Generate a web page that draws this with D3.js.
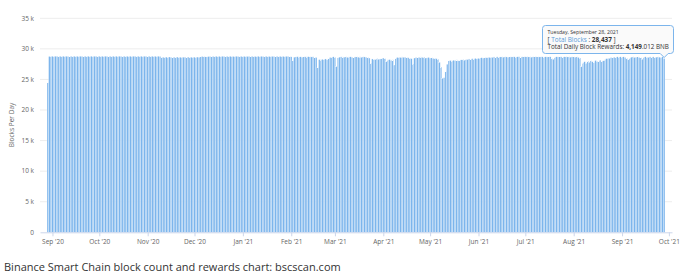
<!DOCTYPE html>
<html>
<head>
<meta charset="utf-8">
<script src="https://cdn.jsdelivr.net/npm/d3@7"></script>
<style>
  body { margin: 0; background: #fff; font-family: "Open Sans", sans-serif; }
  #caption { position: absolute; left: 4px; top: 259px; font-size: 11px; color: #333; white-space: nowrap; }
</style>
</head>
<body>
<div id="chart"></div>
<div id="caption">Binance Smart Chain block count and rewards chart: bscscan.com</div>
<script>
// daily block counts, one value per day starting 29 Aug 2020
const startDate = new Date(2020, 7, 29);
const blocks = [
  // Aug '20
  24450, 28770, 28795,
  // Sep '20
  28796, 28790, 28799, 28800, 28793, 28797, 28786, 28799, 28800, 28794,
  28788, 28796, 28800, 28791, 28797, 28799, 28786, 28800, 28795, 28790,
  28798, 28800, 28793, 28797, 28789, 28800, 28796, 28792, 28799, 28794,
  // Oct '20
  28797, 28800, 28791, 28795, 28799, 28788, 28796, 28800, 28793, 28798,
  28790, 28799, 28795, 28800, 28787, 28794, 28799, 28796, 28791, 28800,
  28798, 28792, 28797, 28799, 28789, 28795, 28800, 28793, 28797, 28790, 28798,
  // Nov '20
  28796, 28800, 28791, 28797, 28799, 28788, 28795, 28800, 28760,
  28650, 28640, 28660, 28655, 28630, 28670, 28645, 28660, 28650, 28635, 28665,
  28650, 28640, 28660, 28645, 28655, 28630, 28660, 28650, 28640, 28655,
  // Dec '20
  28650, 28645, 28660, 28640, 28720, 28760, 28740, 28690, 28700, 28750,
  28770, 28760, 28780, 28770, 28790, 28760, 28780, 28770, 28790, 28780,
  28760, 28785, 28770, 28790, 28780, 28760, 28785, 28790, 28770, 28780, 28775,
  // Jan '21
  28780, 28770, 28790, 28760, 28785, 28770, 28790, 28775, 28760, 28780,
  28790, 28770, 28785, 28760, 28780, 28790, 28770, 28760, 28785, 28775,
  28780, 28770, 28790, 28760, 28780, 28785, 28770, 28760, 28780, 28790, 28770,
  // Feb '21
  28700, 28050, 28650, 28700, 28720, 28680, 28700, 28650, 28720, 28700,
  28690, 28720, 28700, 28680, 28710, 28650, 28600, 26900, 28250, 28200,
  28300, 28250, 28350, 28200, 28400, 28600, 28650, 28700,
  // Mar '21
  28600, 27100, 28550, 28650, 28700, 28680, 28650, 28700, 28620, 28680,
  28700, 28650, 28600, 28680, 28700, 28650, 28690, 28620, 28700, 28680,
  28650, 28600, 28500, 27650, 28350, 28300, 28250, 28400, 28300, 28350, 28450,
  // Apr '21
  28500, 28400, 27900, 28200, 28250, 28150, 28200, 27360, 28450, 28600,
  28650, 28600, 28680, 28620, 28650, 28600, 28550, 28500, 28400, 27530,
  28500, 28600, 28650, 28620, 28680, 28600, 28650, 28500, 28550, 28600,
  // May '21
  28500, 28550, 28450, 28500, 28400, 28300, 27800, 27000, 25190, 25300,
  26270, 27500, 28050, 28100, 28000, 28150, 28100, 28200, 28050, 28150,
  28200, 28250, 28150, 28300, 28250, 28350, 28300, 28400, 28350, 28450, 28400,
  // Jun '21
  28450, 28500, 28550, 28500, 28600, 28550, 28650, 28600, 28650, 28600,
  28680, 28650, 28700, 28650, 28680, 28700, 28650, 28700, 28680, 28650,
  28700, 28680, 28720, 28700, 28650, 28700, 28720, 28680, 28700, 28720,
  // Jul '21
  28700, 28720, 28680, 28700, 28650, 28700, 28720, 28690, 28700, 28680,
  28720, 28700, 28650, 28700, 28680, 28720, 28700, 28400, 28300, 28600,
  28700, 28680, 28720, 28700, 28650, 28700, 28720, 28680, 28700, 28650, 28700,
  // Aug '21
  28700, 28650, 28700, 28600, 28500, 27080, 27700, 27900, 27650, 28000,
  27800, 28050, 27900, 27750, 28100, 27950, 28000, 28150, 27900, 28050,
  28200, 28400, 28500, 28450, 28600, 28550, 28650, 28600, 28700, 28650, 28700,
  // Sep '21
  28650, 28700, 28600, 28450, 28200, 28500, 28650, 28700, 28600, 28650,
  28700, 28600, 28550, 28300, 28650, 28700, 28650, 28600, 28700, 28650,
  28700, 28600, 28650, 28700, 28650, 28600, 28700, 28437
];
const yTicks = [0, 5000, 10000, 15000, 20000, 25000, 30000, 35000];
const tipLines = ["Tuesday, September 28, 2021", "Total Blocks", "28,437", "4,149", ".012 BNB"];

const width = 686, height = 277;
const svg = d3.select('#chart').append('svg').attr('width', width).attr('height', height);

const data = blocks.map((v, i) => ({ date: d3.timeDay.offset(startDate, i), value: v }));

const x = d3.scaleTime()
  .domain([new Date(2020, 7, 24), new Date(2021, 9, 3)])
  .range([40, 672]);
const y = d3.scaleLinear().domain([0, 35000]).range([232.3, 18.3]);
const dayW = x(new Date(2020, 8, 2)) - x(new Date(2020, 8, 1));

// grid
svg.append('g')
  .selectAll('line').data(yTicks.slice(1))
  .enter().append('line')
  .attr('x1', 40).attr('x2', 672)
  .attr('y1', d => y(d)).attr('y2', d => y(d))
  .attr('stroke', '#ededed').attr('stroke-width', 1);

// y labels
svg.append('g')
  .selectAll('text').data(yTicks)
  .enter().append('text')
  .attr('x', 34).attr('y', d => y(d) + 2.3)
  .attr('text-anchor', 'end')
  .attr('font-size', 6.5).attr('fill', '#666')
  .text(d => d === 0 ? '0' : (d / 1000) + ' k');

svg.append('text')
  .attr('transform', 'translate(14,125) rotate(-90)')
  .attr('text-anchor', 'middle')
  .attr('font-size', 6.5).attr('fill', '#666')
  .text('Blocks Per Day');

// bars
svg.append('g')
  .selectAll('rect').data(data)
  .enter().append('rect')
  .attr('x', d => x(d.date) - dayW / 2)
  .attr('width', dayW)
  .attr('y', d => y(d.value))
  .attr('height', d => y(0) - y(d.value))
  .attr('fill', '#7cb5ec')
  .attr('stroke', '#fff')
  .attr('stroke-width', 0.3);

// x axis
const xAxis = svg.append('g')
  .attr('transform', `translate(0,${y(0)})`)
  .call(d3.axisBottom(x)
    .ticks(d3.timeMonth.every(1))
    .tickFormat(d3.timeFormat("%b '%y"))
    .tickSize(4).tickPadding(3).tickSizeOuter(0));
xAxis.select('.domain').attr('stroke', '#ccd6eb');
xAxis.selectAll('.tick line').attr('stroke', '#ccd6eb');
xAxis.selectAll('.tick text').attr('fill', '#666').attr('font-size', 6.5)
  .attr('font-family', '"Open Sans", sans-serif');

// tooltip
const tx = 542.5, ty = 25.5, tw = 131, th = 28;
const ax = x(data[data.length - 1].date);
const tip = svg.append('g');
tip.append('path')
  .attr('d', `M${tx + 3},${ty} H${tx + tw - 3} Q${tx + tw},${ty} ${tx + tw},${ty + 3} V${ty + th - 3} Q${tx + tw},${ty + th} ${tx + tw - 3},${ty + th} H${ax + 4} L${ax},${ty + th + 4} L${ax - 4},${ty + th} H${tx + 3} Q${tx},${ty + th} ${tx},${ty + th - 3} V${ty + 3} Q${tx},${ty} ${tx + 3},${ty} Z`)
  .attr('fill', 'rgba(250,250,250,0.92)')
  .attr('stroke', '#7cb5ec').attr('stroke-width', 1);
tip.append('text').attr('x', tx + 5).attr('y', ty + 8.5)
  .attr('font-size', 5.2).attr('fill', '#333').text(tipLines[0]);
const t2 = tip.append('text').attr('x', tx + 5).attr('y', ty + 16).attr('font-size', 6.4).attr('fill', '#333');
t2.append('tspan').text('[ ');
t2.append('tspan').attr('fill', '#5b9bd8').text(tipLines[1]);
t2.append('tspan').text(' : ');
t2.append('tspan').attr('font-weight', 'bold').text(tipLines[2]);
t2.append('tspan').text(' ]');
const t3 = tip.append('text').attr('x', tx + 5).attr('y', ty + 23.5).attr('font-size', 6.3).attr('fill', '#333');
t3.append('tspan').text('Total Daily Block Rewards: ');
t3.append('tspan').attr('font-weight', 'bold').text(tipLines[3]);
t3.append('tspan').text(tipLines[4]);
</script>
</body>
</html>
